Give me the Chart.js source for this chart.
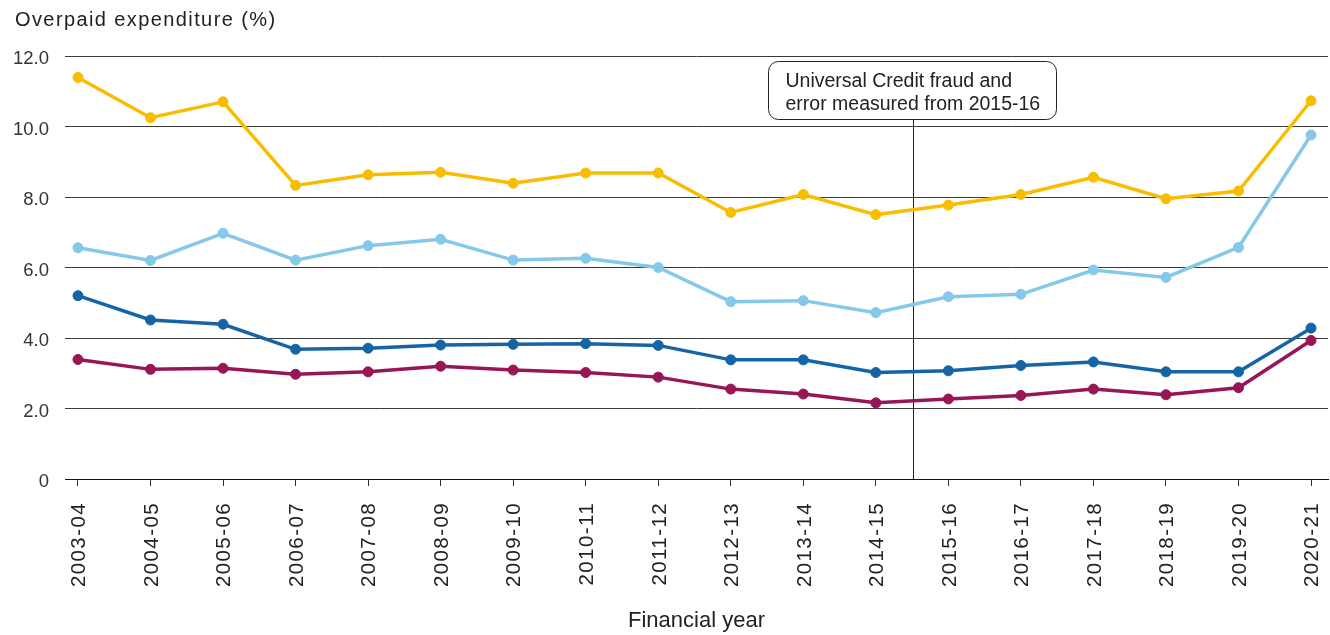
<!DOCTYPE html>
<html>
<head>
<meta charset="utf-8">
<script src="https://cdn.jsdelivr.net/npm/chart.js@4"></script>
<style>
  html, body { margin: 0; padding: 0; background: #fff; overflow: hidden; }
  #wrap { width: 1330px; height: 635px; position: relative; }
</style>
</head>
<body>
<div id="wrap"><canvas id="chart1"></canvas></div>
<script>
let years = ['2003-04', '2004-05', '2005-06', '2006-07', '2007-08', '2008-09',
  '2009-10', '2010-11', '2011-12', '2012-13', '2013-14', '2014-15',
  '2015-16', '2016-17', '2017-18', '2018-19', '2019-20', '2020-21'];
let yellowValues = [11.39, 10.25, 10.70, 8.33, 8.63, 8.70, 8.39, 8.68, 8.68,
  7.56, 8.07, 7.50, 7.77, 8.07, 8.56, 7.95, 8.17, 10.73];
let lightBlueValues = [6.56, 6.20, 6.97, 6.21, 6.62, 6.80, 6.21, 6.26, 6.00,
  5.03, 5.06, 4.72, 5.17, 5.24, 5.93, 5.72, 6.57, 9.76];
let darkBlueValues = [5.20, 4.51, 4.39, 3.68, 3.71, 3.80, 3.82, 3.84, 3.79,
  3.38, 3.38, 3.02, 3.07, 3.22, 3.32, 3.04, 3.04, 4.28];
let purpleValues = [3.39, 3.11, 3.14, 2.97, 3.04, 3.20, 3.09, 3.02, 2.89,
  2.55, 2.41, 2.16, 2.27, 2.37, 2.55, 2.39, 2.59, 3.93];
let yTicks = [0, 2, 4, 6, 8, 10, 12];
let yTitle = 'Overpaid expenditure (%)';
let xTitle = 'Financial year';
let noteLines = ['Universal Credit fraud and', 'error measured from 2015-16'];
let noteAt = 11.5; // between 2014-15 and 2015-16

let font = '"Liberation Sans", Arial, Helvetica, sans-serif';

function series(values, color) {
  return {
    data: values.map((v, i) => ({ x: i, y: v })),
    borderColor: color,
    backgroundColor: color,
    pointBackgroundColor: color,
    pointBorderColor: color
  };
}

// texts and the note box drawn straight on the canvas
let extras = {
  id: 'extras',
  beforeDatasetsDraw(chart) {
    let ctx = chart.ctx;
    let x = chart.scales.x.getPixelForValue(noteAt);
    ctx.save();
    ctx.strokeStyle = '#222';
    ctx.lineWidth = 1;
    ctx.beginPath();
    ctx.moveTo(Math.round(x) + 1.5, 119);
    ctx.lineTo(Math.round(x) + 1.5, chart.chartArea.bottom);
    ctx.stroke();
    ctx.restore();
  },
  afterDraw(chart) {
    let ctx = chart.ctx;
    let xs = chart.scales.x;
    let area = chart.chartArea;
    ctx.save();
    ctx.fillStyle = '#222';
    ctx.letterSpacing = '1.4px';
    ctx.font = '20px ' + font;
    ctx.textAlign = 'left';
    ctx.textBaseline = 'alphabetic';
    ctx.fillText(yTitle, 15, 26);

    ctx.font = '20.5px ' + font;
    ctx.textAlign = 'right';
    years.forEach((label, i) => {
      let px = xs.getPixelForValue(i);
      ctx.save();
      ctx.translate(px + 7.3, area.bottom + 23);
      ctx.rotate(-Math.PI / 2);
      ctx.fillText(label, 0, 0);
      ctx.restore();
    });
    ctx.restore();

    // note box
    let cx = Math.round(xs.getPixelForValue(noteAt));
    let left = cx - 144 + 0.5, top = 61.5;
    ctx.save();
    ctx.fillStyle = '#fff';
    ctx.strokeStyle = '#222';
    ctx.lineWidth = 1;
    ctx.beginPath();
    ctx.roundRect(left, top, 288, 58, 10);
    ctx.fill();
    ctx.stroke();
    ctx.fillStyle = '#222';
    ctx.font = '19.5px ' + font;
    ctx.textAlign = 'left';
    ctx.textBaseline = 'alphabetic';
    ctx.fillText(noteLines[0], left + 17, 87);
    ctx.fillText(noteLines[1], left + 17, 110);
    ctx.restore();
  }
};

let ctx1 = document.getElementById('chart1');

let chart1 = new Chart(ctx1, {
  type: 'line',
  data: {
    datasets: [
      series(purpleValues, '#971656'),
      series(darkBlueValues, '#1565a6'),
      series(lightBlueValues, '#86c8e9'),
      series(yellowValues, '#f9bd00')
    ]
  },
  options: {
    responsive: true,
    maintainAspectRatio: false,
    animation: false,
    layout: { autoPadding: false, padding: { top: 56, right: 2, left: 0, bottom: 0 } },
    elements: {
      line: { borderWidth: 3.5, tension: 0 },
      point: { radius: 5, borderWidth: 1, hoverRadius: 5 }
    },
    plugins: {
      legend: { display: false },
      tooltip: { enabled: false }
    },
    scales: {
      x: {
        type: 'linear',
        min: -0.179,
        max: 17.234,
        afterBuildTicks: axis => { axis.ticks = years.map((_, i) => ({ value: i })); },
        afterFit: axis => { axis.height = 156; },
        ticks: { display: false },
        grid: { drawOnChartArea: false, drawTicks: true, tickLength: 7, color: '#333' },
        border: { display: true, color: '#111', width: 1 },
        title: {
          display: true,
          text: xTitle,
          color: '#222',
          font: { family: font, size: 22 },
          padding: { top: 0, bottom: 1 }
        }
      },
      y: {
        min: 0,
        max: 12,
        afterBuildTicks: axis => { axis.ticks = yTicks.map(v => ({ value: v })); },
        afterFit: axis => { axis.width = 65; },
        ticks: {
          padding: 16,
          labelOffset: 3,
          color: '#333',
          font: { family: font, size: 18.5 },
          callback: v => v === 0 ? '0' : v.toFixed(1)
        },
        grid: { color: '#3a3a3a', drawTicks: false, lineWidth: 1 },
        border: { display: false }
      }
    }
  },
  plugins: [extras]
});
</script>
</body>
</html>
